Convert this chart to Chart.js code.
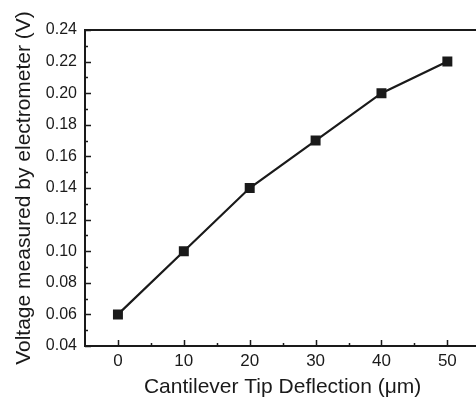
<!DOCTYPE html>
<html>
<head>
<meta charset="utf-8">
<script src="https://cdn.jsdelivr.net/npm/chart.js@4/dist/chart.umd.min.js"></script>
<style>
  html, body { margin: 0; padding: 0; background: #fff; overflow: hidden; }
  #wrap { width: 488px; height: 398px; }
</style>
</head>
<body>
<div id="wrap"><canvas id="myChart" width="488" height="398"></canvas></div>
<script>
// deflection (um) and measured voltage (V)
const deflection = [0, 10, 20, 30, 40, 50]
const voltage = [0.06, 0.10, 0.14, 0.17, 0.20, 0.22]

const xTicks = [0, 10, 20, 30, 40, 50]
const yTicks = [0.04, 0.06, 0.08, 0.10, 0.12, 0.14, 0.16, 0.18, 0.20, 0.22, 0.24]

const INK = '#1a1a1a'
const FONT = 'Liberation Sans, Arial, sans-serif'

// frame + inward ticks (major and minor)
const frameTicks = {
    id: 'frameTicks',
    afterDraw(chart) {
        const ctx = chart.ctx
        const a = chart.chartArea
        const xs = chart.scales.x
        const ys = chart.scales.y
        ctx.save()
        ctx.strokeStyle = INK
        ctx.lineWidth = 2
        ctx.strokeRect(a.left, a.top, a.right - a.left, a.bottom - a.top)
        ctx.lineWidth = 1.5
        ctx.beginPath()
        xTicks.forEach(function (v) {
            const px = Math.round(xs.getPixelForValue(v)) + 0.5
            ctx.moveTo(px, a.bottom); ctx.lineTo(px, a.bottom - 6)
            const m = Math.round(xs.getPixelForValue(v + 5)) + 0.5
            ctx.moveTo(m, a.bottom); ctx.lineTo(m, a.bottom - 3)
        })
        yTicks.forEach(function (v, i) {
            const py = Math.round(ys.getPixelForValue(v)) + 0.5
            ctx.moveTo(a.left, py); ctx.lineTo(a.left + 6, py)
            if (i < yTicks.length - 1) {
                const m = Math.round(ys.getPixelForValue((v + yTicks[i + 1]) / 2)) + 0.5
                ctx.moveTo(a.left, m); ctx.lineTo(a.left + 3, m)
            }
        })
        ctx.stroke()
        ctx.restore()
    }
}

const ctx = document.getElementById('myChart').getContext('2d')
const chart = new Chart(ctx, {
    type: 'line',
    data: {
        datasets: [{
            data: deflection.map(function (d, i) { return { x: d, y: voltage[i] } }),
            borderColor: INK,
            backgroundColor: INK,
            borderWidth: 2.2,
            pointStyle: 'rect',
            pointRadius: 5.5,
            pointHoverRadius: 5.5,
            tension: 0
        }]
    },
    options: {
        responsive: false,
        animation: false,
        layout: { padding: { top: 30, left: 0, right: 3, bottom: 0 } },
        plugins: { legend: { display: false }, tooltip: { enabled: false } },
        scales: {
            x: {
                type: 'linear',
                min: -5,
                max: 55,
                afterBuildTicks: function (s) { s.ticks = xTicks.map(function (v) { return { value: v } }) },
                afterFit: function (s) { s.height = 52 },
                grid: { display: false, drawTicks: false },
                border: { display: false },
                ticks: {
                    color: INK,
                    padding: 5,
                    maxRotation: 0,
                    font: { family: FONT, size: 17 }
                },
                title: {
                    display: true,
                    text: 'Cantilever Tip Deflection (\u03bcm)',
                    color: INK,
                    padding: 0,
                    font: { family: FONT, size: 21, lineHeight: 1 }
                }
            },
            y: {
                min: 0.04,
                max: 0.24,
                afterBuildTicks: function (s) { s.ticks = yTicks.map(function (v) { return { value: v } }) },
                afterFit: function (s) { s.width = 85 },
                grid: { display: false, drawTicks: false },
                border: { display: false },
                ticks: {
                    color: INK,
                    padding: 8,
                    font: { family: FONT, size: 16 },
                    callback: function (v) { return Number(v).toFixed(2) }
                },
                title: {
                    display: true,
                    text: 'Voltage measured by electrometer (V)',
                    color: INK,
                    padding: { top: 14, bottom: 0 },
                    font: { family: FONT, size: 21, lineHeight: 1 }
                }
            }
        }
    },
    plugins: [frameTicks]
})
</script>
</body>
</html>
